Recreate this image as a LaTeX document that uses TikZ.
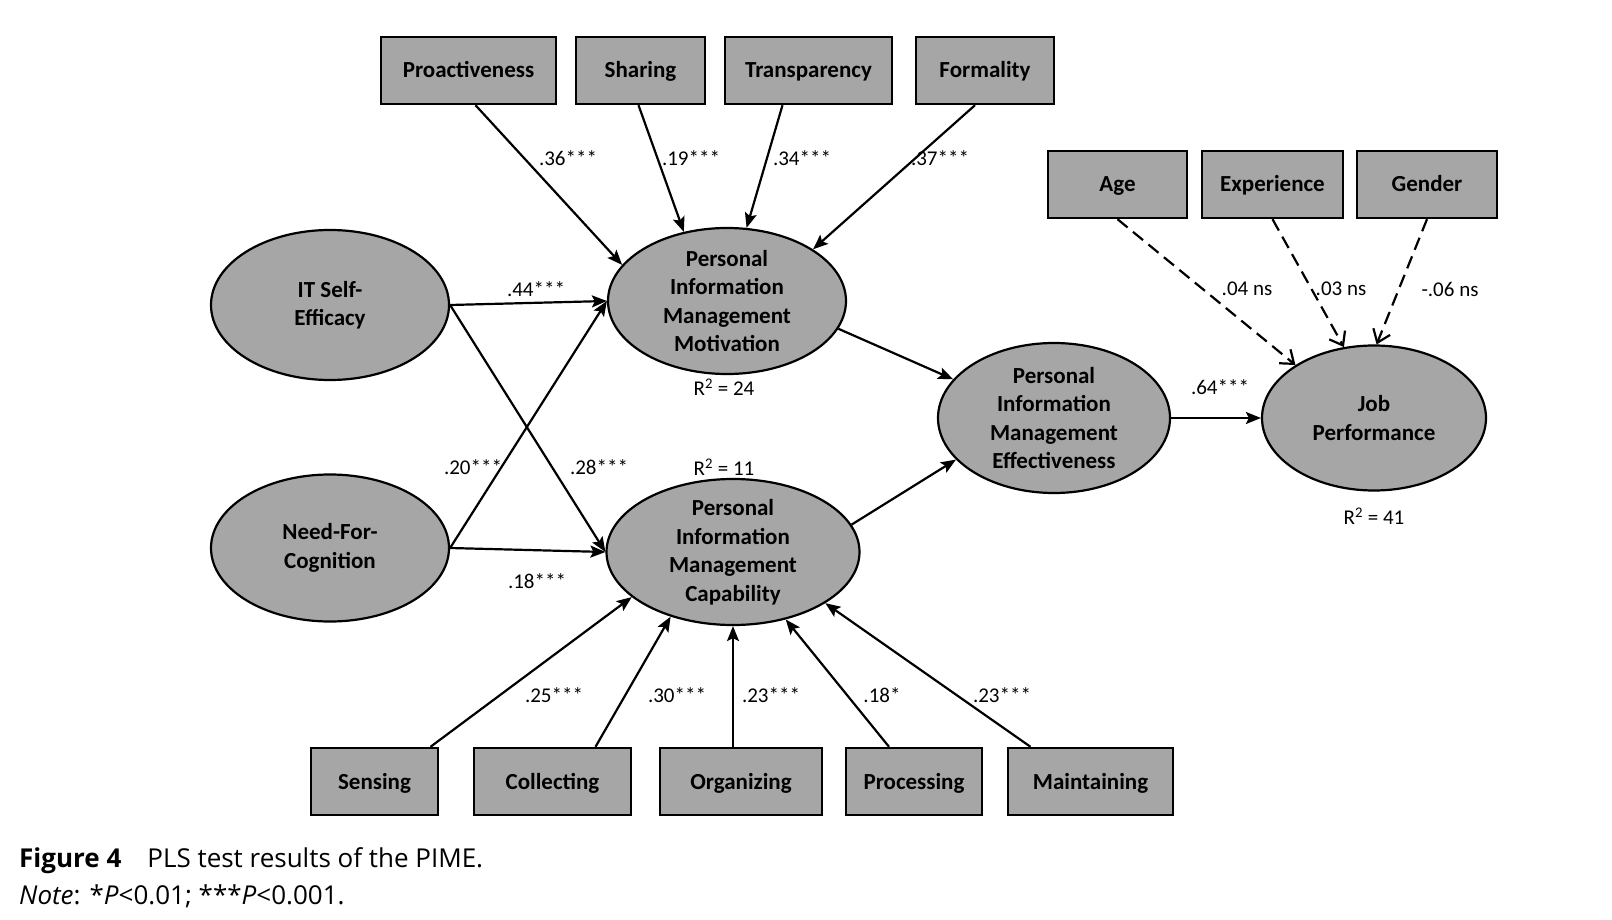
\documentclass[tikz,border=0pt]{standalone}
\usepackage{fontspec}
\setmainfont{Carlito}
\newfontfamily\capfont{Open Sans}
\usetikzlibrary{shapes.geometric,arrows.meta}
\definecolor{boxgray}{RGB}{166,166,166}

\begin{document}
\begin{tikzpicture}[x=1pt,y=-1pt,
  box/.style={draw,line width=2.4pt,fill=boxgray,minimum height=67pt,inner sep=0pt,text height=18pt,text depth=3pt,font=\fontsize{23}{28}\selectfont\bfseries},
  latent/.style={ellipse,draw,line width=2.2pt,fill=boxgray,align=center,inner xsep=0pt,inner ysep=-7pt,font=\fontsize{23}{28.5}\selectfont\bfseries},
  arr/.style={line width=2.2pt,-{Stealth[length=15pt,width=12pt,inset=3pt]}},
  darr/.style={line width=2.2pt,dash pattern=on 13pt off 7pt,-{Straight Barb[length=12pt,width=18pt]}},
  coef/.style={inner sep=0pt,font=\fontsize{21}{24}\selectfont}]
  \useasboundingbox (0,0) rectangle (1612,920);

  % indicator boxes of motivation
  \node[box,minimum width=175pt] (proact) at (468.5,70.5) {Proactiveness};
  \node[box,minimum width=129pt] (share)  at (640.5,70.5) {Sharing};
  \node[box,minimum width=167pt] (transp) at (808.5,70.5) {Transparency};
  \node[box,minimum width=138pt] (formal) at (985,70.5)   {Formality};

  % control boxes
  \node[box,minimum width=139pt] (age)    at (1117.5,184.5) {Age};
  \node[box,minimum width=141pt] (exper)  at (1272.5,184.5) {Experience};
  \node[box,minimum width=140pt] (gender) at (1427,184.5)   {Gender};

  % indicator boxes of capability
  \node[box,minimum width=127pt] (sense)    at (374.5,781.5)  {Sensing};
  \node[box,minimum width=157pt] (collect)  at (552.5,781.5)  {Collecting};
  \node[box,minimum width=162pt] (organize) at (741,781.5)    {Organizing};
  \node[box,minimum width=136pt] (process)  at (914,781.5)    {Processing};
  \node[box,minimum width=165pt] (maintain) at (1090.5,781.5) {Maintaining};

  % latent constructs
  \node[latent,minimum width=238pt,minimum height=150pt] (itse) at (330,305) {IT Self-\\Efficacy};
  \node[latent,minimum width=238pt,minimum height=147pt] (nfc)  at (330,548) {Need-For-\\Cognition};
  \node[latent,minimum width=238pt,minimum height=146pt] (pimm) at (727,301) {Personal\\Information\\Management\\Motivation};
  \node[latent,minimum width=253pt,minimum height=146pt] (pimc) at (733,552) {Personal\\Information\\Management\\Capability};
  \node[latent,minimum width=232pt,minimum height=150pt] (pime) at (1054,418) {Personal\\Information\\Management\\Effectiveness};
  \node[latent,minimum width=224pt,minimum height=145pt] (job)  at (1374,418) {Job\\Performance};

  % paths
  \draw[arr] ([xshift=7pt]proact.south) -- (pimm.161);
  \draw[arr] ([xshift=-2pt]share.south) -- (pimm.122);
  \draw[arr] ([xshift=-26pt]transp.south) -- (pimm.75);
  \draw[arr] ([xshift=-10pt]formal.south) -- (pimm.31);
  \draw[arr] (itse.east) -- (pimm.west);
  \draw[arr] (itse.east) -- (pimc.west);
  \draw[arr] (nfc.east) -- (pimm.west);
  \draw[arr] (nfc.east) -- (pimc.west);
  \draw[arr] (pimm.-14) -- (pime.159);
  \draw[arr] (pimc.13) -- (pime.-157);
  \draw[arr] (pime.east) -- (job.west);
  \draw[darr] (age.south) -- (job.146);
  \draw[darr] (exper.south) -- (job.113);
  \draw[darr] (gender.south) -- (job.88);
  \draw[arr] ([xshift=56pt]sense.north) -- (pimc.-156);
  \draw[arr] ([xshift=43pt]collect.north) -- (pimc.-134);
  \draw[arr] (organize.north -| pimc.south) -- (pimc.south);
  \draw[arr] ([xshift=-25pt]process.north) -- (pimc.-52);
  \draw[arr] ([xshift=-60pt]maintain.north) -- (pimc.-29);

  % coefficients
  \node[coef] (c1) at (568,158) {.36***};
  \node[coef] (c2) at (691,158) {.19***};
  \node[coef] (c3) at (802,158) {.34***};
  \node[coef] (c4) at (940,158) {.37***};
  \node[coef] (c5) at (536,289) {.44***};
  \node[coef] (c6) at (473,467) {.20***};
  \node[coef] (c7) at (599,467) {.28***};
  \node[coef] (c8) at (537,581) {.18***};
  \node[coef] (c9) at (1220,387) {.64***};
  \node[coef] (c10) at (1247,289) {.04 ns};
  \node[coef] (c11) at (1341,289) {.03 ns};
  \node[coef] (c12) at (1450,289) {-.06 ns};
  \node[coef] (c13) at (554,695) {.25***};
  \node[coef] (c14) at (677,695) {.30***};
  \node[coef] (c15) at (771,695) {.23***};
  \node[coef] (c16) at (882,695) {.18*};
  \node[coef] (c17) at (1002,695) {.23***};
  \node[coef] (r2m) at (724,387) {R\textsuperscript{2} = 24};
  \node[coef] (r2c) at (724,467) {R\textsuperscript{2} = 11};
  \node[coef] (r2j) at (1374,516) {R\textsuperscript{2} = 41};

  % caption
  \node[anchor=west,inner sep=0pt,font=\capfont\fontsize{26}{30}\selectfont] (fig1) at (19,861) {\textbf{Figure 4}\hspace{26pt}PLS test results of the PIME.};
  \node[anchor=west,inner sep=0pt,font=\capfont\fontsize{26}{30}\selectfont] (fig2) at (19,896) {\textit{Note}: *\textit{P}<0.01; ***\textit{P}<0.001.};
\end{tikzpicture}
\end{document}
